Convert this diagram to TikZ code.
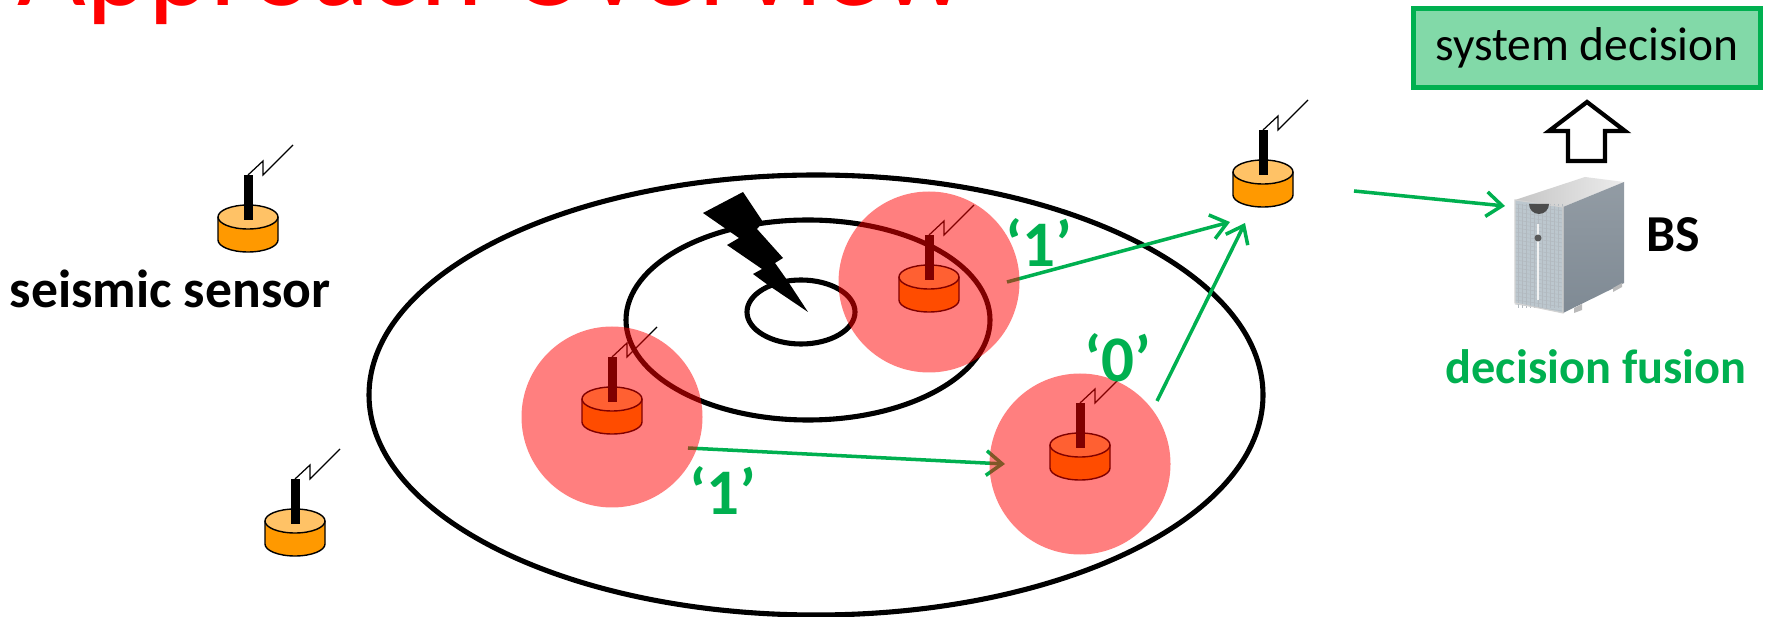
\documentclass[tikz,border=0pt]{standalone}
\usepackage{fontspec}
\setmainfont{Carlito}
\usetikzlibrary{arrows.meta}
\definecolor{vert}{HTML}{00B050}
\definecolor{vertclair}{HTML}{82D9A8}
\definecolor{capteur}{HTML}{FF9900}
\definecolor{capteurhaut}{HTML}{FFC266}
\definecolor{serveurface}{HTML}{BCC7CE}
\definecolor{serveurcote}{HTML}{7F8A94}
\tikzset{
	courbe/.style={line width=2.9pt},
	portee/.style={fill=red,opacity=.5},
	fleche/.style={vert,line width=2pt,-{Straight Barb[length=9pt,width=14pt,line width=2pt]}},
	etiquette/.style={vert,font=\fontsize{37}{37}\selectfont\bfseries}
}
\begin{document}
\begin{tikzpicture}[x=.02cm,y=-.02cm]
			\clip (0,0) rectangle (1770,617);
			\fill[white] (0,0) rectangle (1770,617);
			\node[red,anchor=base west,inner sep=0,font=\fontsize{67.6}{67.6}\selectfont] (title) at (17,6) {Approach Overview};
			
			\draw[courbe] (816,395) ellipse [x radius=447,y radius=220];
			\draw[courbe] (808,320) ellipse [x radius=182,y radius=100];
			\draw[courbe] (801,312) ellipse [x radius=54,y radius=32];
			\fill (743,192)--(763,222)--(757,229)--(783,258)--(775,263)--(787,280)--(808,312)--(768,285)--(753,274)--(762,269)--(727,245)--(739,238)--(703,213)--cycle;%eclair
			
			\foreach \cx/\cy in {248/217,295/521,1263/172,612/399,929/277,1080/445}{
				\begin{scope}[shift={(\cx,\cy)}]
				\draw[fill=capteur,line width=.8pt] (-30,0) -- (-30,23) arc[start angle=180,end angle=0,x radius=30,y radius=12] -- (30,0);
				\draw[fill=capteurhaut,line width=.8pt] (0,0) ellipse [x radius=30,y radius=12];
				\fill (-4.5,-42) rectangle (4.5,3);
				\draw[line width=.7pt] (0,-42) -- (15,-56) -- (15,-42) -- (45,-72);
				\end{scope}}
			
			\coordinate (a1) at (688,448);
			\coordinate (a2) at (1005,464);
			\coordinate (b1) at (1007,282);
			\coordinate (b2) at (1230,222);
			\coordinate (c1) at (1157,401);
			\coordinate (c2) at (1245,223);
			\coordinate (d1) at (1354,191);
			\coordinate (d2) at (1505,206);
			\draw[fleche] (a1) -- (a2);
			\draw[fleche] (b1) -- (b2);
			\draw[fleche] (c1) -- (c2);
			\draw[fleche] (d1) -- (d2);
			
			\foreach \cx/\cy in {612/417,929/282,1080/464}
				\fill[portee] (\cx,\cy) circle [radius=90.5];
			
			\node[etiquette] (un1) at (723,491) {‘1’};
			\node[etiquette] (un2) at (1039,243) {‘1’};
			\node[etiquette] (zero) at (1118,358) {‘0’};
			\node[font=\fontsize{30.5}{30.5}\selectfont\bfseries] (seismic) at (170,289) {seismic sensor};
			\node[font=\fontsize{29.5}{29.5}\selectfont\bfseries] (bs) at (1673,235) {BS};
			\node[vert,font=\fontsize{27.5}{27.5}\selectfont\bfseries] (fusion) at (1596,367) {decision fusion};
			
			\node[draw=vert,fill=vertclair,line width=2.4pt,minimum width=6.94cm,minimum height=1.58cm,inner sep=0,font=\fontsize{27}{27}\selectfont] (decision) at (1587,48) {system decision};
			\draw[line width=2.4pt,fill=white] (1587,102)--(1549,131)--(1568,131)--(1568,161)--(1605,161)--(1605,131)--(1625,131)--cycle;
			
			%serveur
			\shade[left color=gray!45,right color=gray!15] (1515,200)--(1585,177)--(1624,182)--(1563,207)--cycle;
			\shade[top color=serveurcote!85,bottom color=serveurcote] (1563,207)--(1624,182)--(1624,283)--(1563,313)--cycle;
			\fill[serveurface] (1515,200)--(1563,207)--(1563,313)--(1515,303)--cycle;
			\fill[gray!55] (1574,308)--(1582,304)--(1582,310)--(1574,313)--cycle;
			\fill[gray!55] (1613,288)--(1622,283)--(1622,287)--(1613,292)--cycle;
			\foreach \k in {1518,1522,...,1562}
				\draw[serveurcote!60,line width=.3pt] (\k,204) -- (\k,308);
			\foreach \k in {0,4,...,100}
				\draw[serveurcote!60,line width=.3pt] (1515,204+\k) -- (1563,211+\k);
			\draw[gray!35,line width=.6pt] (1515,200)--(1563,207)--(1563,313)--(1515,303)--cycle;
			\draw[gray!10,line width=1.2pt] (1538,224) -- (1538,300);
			\fill[gray!70!black] (1538,238) circle [radius=3.5];
			\fill[gray!60!black] (1529,204) arc[start angle=180,end angle=0,radius=10] -- cycle;
		\end{tikzpicture}
\end{document}
